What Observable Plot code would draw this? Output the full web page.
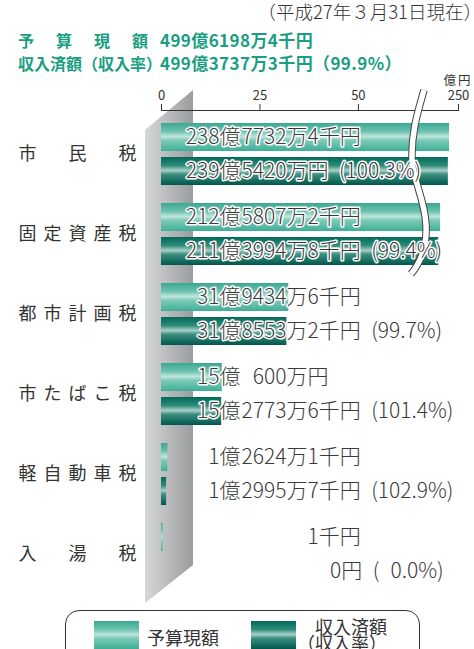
<!DOCTYPE html>
<html><head><meta charset="utf-8">
<script src="https://cdn.jsdelivr.net/npm/d3@7"></script>
<script src="https://cdn.jsdelivr.net/npm/@observablehq/plot@0.6"></script>
<style>
body{margin:0;background:#fff;font-family:"Noto Sans CJK JP",sans-serif;}
#wrap{position:relative;width:474px;height:649px;overflow:hidden;background:#fff;}
#chart{position:absolute;left:0;top:0;}
.t{position:absolute;white-space:pre;line-height:1;}
.title{color:#1a9e82;font-weight:700;font-size:16px;}
.num{font-size:17px;letter-spacing:0.4px;}
#legend{position:absolute;left:65px;top:610px;width:355px;height:70px;border:1.3px solid #333;border-radius:14px;box-sizing:border-box;}
.sw{position:absolute;width:45px;height:28px;}
.sw.b{background:linear-gradient(to bottom,#3aa891 0%,#6cc2b0 30%,#bfe5dc 48%,#7ccab8 62%,#3fae97 100%);}
.sw.i{background:linear-gradient(to bottom,#006a59 0%,#2f8a7a 30%,#a8cfc6 48%,#3a8f80 62%,#00574a 100%);}
.lt{position:absolute;font-size:18px;color:#333;white-space:pre;line-height:16px;}
</style></head><body><div id="wrap">
<div class="t" style="right:-8px;top:2px;font-size:18.5px;color:#333;font-weight:300">（平成27年３月31日現在）</div>
<div class="t title" style="left:18px;top:32px;letter-spacing:22px">予算現額</div>
<div class="t title num" style="left:160px;top:31px">499億6198万4千円</div>
<div class="t title" style="left:18px;top:55px">収入済額（収入率）</div>
<div class="t title num" style="left:160px;top:54px">499億3737万3千円（99.9%）</div>
<div id="chart"></div>
<div id="legend"></div>
<div class="sw b" style="left:94px;top:621px"></div>
<div class="lt" style="left:147px;top:629px">予算現額</div>
<div class="sw i" style="left:251px;top:621px"></div>
<div class="lt" style="left:297px;top:618px">　収入済額
（収入率）</div>
</div>
<script>
const categories = ["市民税", "固定資産税", "都市計画税", "市たばこ税", "軽自動車税", "入湯税"];
const categoryLabels = ["市　民　税", "固定資産税", "都市計画税", "市たばこ税", "軽自動車税", "入　湯　税"];
// amounts in 千円
const budgetSen = [23877324, 21258072, 3194346, 1506000, 126241, 1];
const incomeSen = [23954200, 21139948, 3185532, 1527736, 129957, 0];
const incomeRate = [100.3, 99.4, 99.7, 101.4, 102.9, 0.0];
const xTicks = [0, 25, 50, 250];
const unitLabel = "億円";

const FS = "\u2007";
function splitYen(n) {
  const oku = Math.floor(n / 100000), man = Math.floor((n % 100000) / 10), sen = n % 10;
  const pre = oku > 0 ? oku + "億" : "";
  if (n === 0) return [pre, FS.repeat(4) + "\u3000" + FS + FS + "0円"];
  let post = man > 0 ? String(man).padStart(4, FS) + "万" : FS.repeat(4) + "\u3000";
  post += (sen > 0 ? sen + "千" : "") + "円";
  return [pre, post];
}
const rows = categories.map((c, i) => {
  const [bPre, bPost] = splitYen(budgetSen[i]);
  const [iPre, iPost0] = splitYen(incomeSen[i]);
  const iPost = iPost0 + "\u2002(" + incomeRate[i].toFixed(1).padStart(4, FS) + "%)";
  return {cat: c, label: categoryLabels[i], budget: budgetSen[i] / 1e5, income: incomeSen[i] / 1e5, bPre, bPost, iPre, iPost};
});

const font = "'Noto Sans CJK JP', sans-serif";
const txt = {frameAnchor: "left", fontSize: 21, fill: "#3a3a3a", stroke: "white", strokeWidth: 3, fontWeight: 300};
const chart = Plot.plot({
  width: 474, height: 610,
  marginTop: 110, marginLeft: 161, marginRight: 16, marginBottom: 12,
  x: {type: "linear", domain: [0, 64, 205, 240, 250], range: [161, 413, 436, 448, 458]},
  y: {type: "band", domain: categories, paddingInner: 0.225, paddingOuter: 0.1625, axis: null},
  style: {fontFamily: font, color: "#333", background: "transparent"},
  marks: [
    Plot.barX(rows, {y: "cat", x: "budget", insetBottom: 34, insetRight: -1.5, fill: "url(#gBudget)"}),
    Plot.barX(rows, {y: "cat", x: "income", insetTop: 34, fill: "url(#gIncome)"}),
    Plot.frame({anchor: "top", stroke: "#333"}),
    Plot.axisX(xTicks, {anchor: "top", tickSize: 7, tickPadding: 4, fontSize: 13, label: null, stroke: "#333"}),
    Plot.text([unitLabel], {frameAnchor: "top-right", dx: 14, dy: -34, textAnchor: "end", fontSize: 12.5}),
    Plot.text(rows, {y: "cat", text: "label", frameAnchor: "left", dx: -143, textAnchor: "start", fontSize: 18, fill: "#333"}),
    Plot.text(rows, {...txt, y: "cat", text: "bPre", dx: 79, dy: -17, textAnchor: "end"}),
    Plot.text(rows, {...txt, y: "cat", text: "bPost", dx: 80, dy: -17, textAnchor: "start"}),
    Plot.text(rows, {...txt, y: "cat", text: "iPre", dx: 79, dy: 17, textAnchor: "end"}),
    Plot.text(rows, {...txt, y: "cat", text: "iPost", dx: 80, dy: 17, textAnchor: "start"})
  ]
});
document.getElementById("chart").append(chart);

const svg = d3.select(chart);
const xs = chart.scale("x"), ys = chart.scale("y");
const defs = svg.insert("defs", ":first-child");
function grad(id, stops, horizontal) {
  const g = defs.append("linearGradient").attr("id", id).attr("x1", 0).attr("y1", 0)
    .attr("x2", horizontal ? 1 : 0).attr("y2", horizontal ? 0 : 1);
  stops.forEach(([o, c]) => g.append("stop").attr("offset", o).attr("stop-color", c));
}
grad("gBudget", [[0, "#3aa891"], [0.3, "#6cc2b0"], [0.48, "#bfe5dc"], [0.62, "#7ccab8"], [1, "#3fae97"]]);
grad("gIncome", [[0, "#006a59"], [0.3, "#2f8a7a"], [0.48, "#a8cfc6"], [0.62, "#3a8f80"], [1, "#00574a"]]);
grad("gWall", [[0, "#d6d7d9"], [1, "#9b9c9e"]], true);

const x0 = xs.apply(0);
const yTop = ys.apply(categories[0]);
const yBot = ys.apply(categories[categories.length - 1]) + ys.bandwidth;
svg.insert("polygon", "g[aria-label='bar']")
  .attr("points", [[x0 - 16, yTop + 7], [x0 + 32, yTop - 33], [x0 + 32, yBot - 20], [x0 - 16, yBot + 18]].map(p => p.join(",")).join(" "))
  .attr("fill", "url(#gWall)");

const catTexts = svg.selectAll("text").filter(function() { return categoryLabels.includes(this.textContent); });
catTexts.style("letter-spacing", "7px");
svg.selectAll("text").filter(function() { return this.textContent === unitLabel; }).style("letter-spacing", "2px");
const firstCatG = catTexts.node().parentNode;
const xb = xs.apply(64), yA = 110;
const wave = `M${xb + 11},${yA - 20} C${xb + 7},${yA - 5} ${xb - 2},${yA + 20} ${xb - 1},${yA + 50} C${xb},${yA + 70} ${xb + 12},${yA + 90} ${xb + 13},${yA + 115} C${xb + 14},${yA + 135} ${xb + 8},${yA + 152} ${xb - 2},${yA + 164}`;
const wg = d3.create("svg:g");
wg.append("path").attr("d", wave).attr("fill", "none").attr("stroke", "#444").attr("stroke-width", 7.5);
wg.append("path").attr("d", wave).attr("fill", "none").attr("stroke", "#fff").attr("stroke-width", 5.5);
chart.insertBefore(wg.node(), firstCatG);
</script>
</body></html>
